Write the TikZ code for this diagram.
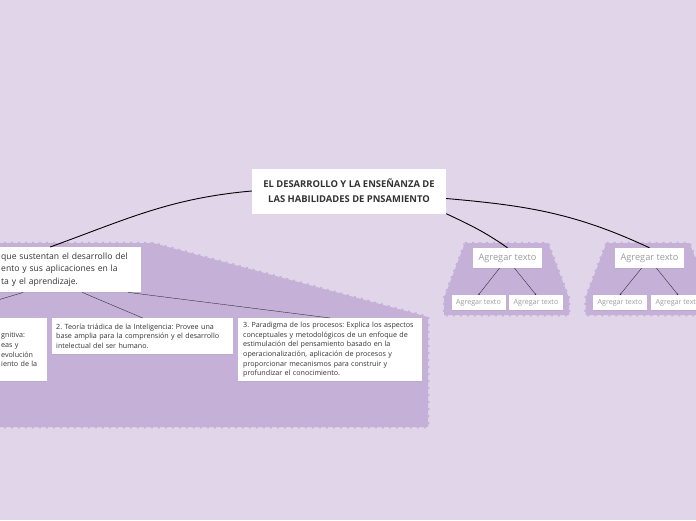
\documentclass[tikz,border=0pt]{standalone}
\usepackage{fontspec}
\setmainfont{Open Sans}
\usetikzlibrary{arrows.meta,shadows}
\frenchspacing

\definecolor{fondo}{HTML}{E1D5EA}
\definecolor{zona}{HTML}{C5B0D8}
\definecolor{texto}{HTML}{333333}
\definecolor{gris}{HTML}{9C9C9C}

\begin{document}
\begin{tikzpicture}[x=1pt,y=-1pt,
    caja/.style={fill=white, text=texto, inner ysep=0pt,
      drop shadow={shadow xshift=0pt,shadow yshift=-0.8pt,opacity=0.12}},
    zonafill/.style={fill=zona, draw=zona, line width=2.5pt, dash pattern=on 2pt off 5pt},
    ramal/.style={line width=0.9pt},
    hoja/.style={line width=0.4pt, draw=texto},
    tema/.style={caja, text=gris, minimum width=69pt, minimum height=20pt, inner xsep=0pt,
      font=\fontsize{9.2}{10}\selectfont},
    hojita/.style={caja, text=gris, minimum width=54pt, minimum height=15pt, inner xsep=0pt,
      font=\fontsize{7.1}{8}\selectfont}]
    \useasboundingbox (0,0) rectangle (696,520);
    \clip (0,0) rectangle (696,520);
    \fill[fondo] (0,0) rectangle (696,520);

    % zonas
    \draw[zonafill] (-10,243) -- (153,243) -- (428,317) -- (428,427) -- (-10,427) -- cycle;
    \foreach \dx in {0,141.5} {
      \draw[zonafill] (465+\dx,243) -- (548+\dx,243) -- (569+\dx,298) -- (569+\dx,315)
        -- (444+\dx,315) -- (444+\dx,298) -- cycle;
    }

    % nodos
    \node[caja, minimum width=194pt, minimum height=45pt, align=center,
      font=\fontsize{9.4}{15}\selectfont\bfseries] (raiz) at (349,191)
      {EL DESARROLLO Y LA ENSEÑANZA DE\\LAS HABILIDADES DE PNSAMIENTO};
    \node[caja, anchor=north west, text width=133pt, inner xsep=7pt, minimum height=45pt,
      align=left, font=\fontsize{8.6}{12.5}\selectfont] (teorias) at (-6,247)
      {que sustentan el desarrollo del\\ento y sus aplicaciones en la\\ta y el aprendizaje.};
    \node[caja, anchor=north west, text width=39pt, inner xsep=7pt, minimum height=63pt,
      align=left, font=\fontsize{7.15}{9.7}\selectfont] (hijo1) at (-6,318)
      {gnitiva:\\eas y\\ evolución\\ iento de la};
    \node[caja, anchor=north west, text width=173pt, inner xsep=4pt, minimum height=36pt,
      align=left, font=\fontsize{7.15}{9.7}\selectfont] (hijo2) at (52,318)
      {2. Teoría triádica de la Inteligencia: Provee una\\base amplia para la comprensión y el desarrollo\\intelectual del ser humano.};
    \node[caja, anchor=north west, text width=174pt, inner xsep=5pt, minimum height=63pt,
      align=left, font=\fontsize{7.15}{9.7}\selectfont] (hijo3) at (238,318)
      {3. Paradigma de los procesos: Explica los aspectos\\conceptuales y metodológicos de un enfoque de\\estimulación del pensamiento basado en la\\operacionalización, aplicación de procesos y\\proporcionar mecanismos para construir y\\profundizar el conocimiento.};
    \node[tema] (tema1) at (507.5,258) {Agregar texto};
    \node[tema] (tema2) at (649.5,258) {Agregar texto};
    \node[hojita] (hoja1a) at (478.5,302.5) {Agregar texto};
    \node[hojita] (hoja1b) at (536,302.5) {Agregar texto};
    \node[hojita] (hoja2a) at (620,302.5) {Agregar texto};
    \node[hojita] (hoja2b) at (678,302.5) {Agregar texto};
    \coordinate (hijo1-in) at (-62,318);

    % conectores
    \draw[ramal] (raiz.west) to[out=185,in=20] ([xshift=-17.5pt]teorias.north);
    \draw[ramal] (raiz.south east) to[out=-25,in=145] (tema1.north);
    \draw[ramal] ([yshift=-7.5pt]raiz.east) to[out=-5,in=155] (tema2.north);
    \draw[hoja] ([xshift=-44.5pt]teorias.south) -- (hijo1-in);
    \draw[hoja] ([xshift=14.5pt]teorias.south) -- (hijo2.north);
    \draw[hoja] ([xshift=60.5pt]teorias.south) -- (hijo3.north);
    \foreach \t/\a/\b in {tema1/hoja1a/hoja1b, tema2/hoja2a/hoja2b} {
      \draw[hoja,-{Circle[length=1.6pt]}] ([xshift=-8pt]\t.south) -- (\a.north);
      \draw[hoja,-{Circle[length=1.6pt]}] ([xshift=7pt]\t.south) -- (\b.north);
    }
\end{tikzpicture}
\end{document}
